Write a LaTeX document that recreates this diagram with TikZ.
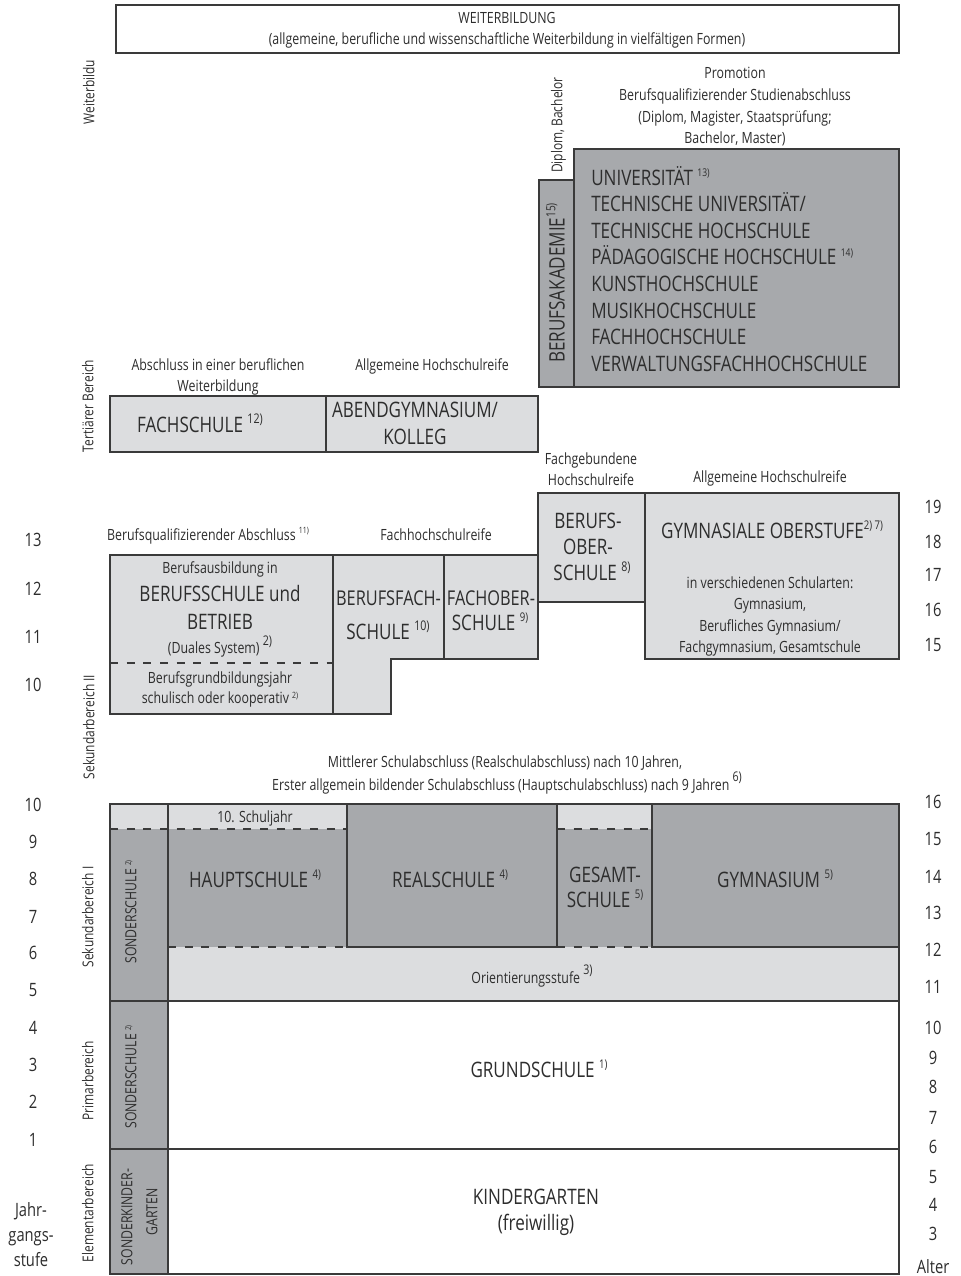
\documentclass[tikz,border=0pt]{standalone}
\usepackage{fontspec}
\setmainfont{Open Sans}[FakeStretch=0.8]
\definecolor{lightfill}{RGB}{220,221,223}
\definecolor{darkfill}{RGB}{167,169,172}
\definecolor{edge}{RGB}{58,58,58}
\definecolor{txt}{RGB}{45,45,45}
\newcommand\fn[3][5pt]{\raisebox{#1}{\fontsize{#2}{#2}\selectfont #3}}
\begin{document}
\begin{tikzpicture}[x=0.75pt,y=-0.75pt,
  box/.style={draw=edge, line width=1pt},
  lbox/.style={box, fill=lightfill},
  dbox/.style={box, fill=darkfill},
  dline/.style={draw=edge, line width=1pt, dash pattern=on 6pt off 6.5pt},
  small/.style={inner sep=0pt, text=txt, font=\fontsize{11.6}{13}\selectfont, text height=8.3pt, text depth=0pt},
  big/.style={inner sep=0pt, text=txt, font=\fontsize{16}{18}\selectfont, text height=11.45pt, text depth=0pt},
  tight/.style={big, font=\fontsize{15.3}{18}\selectfont, text height=10.95pt},
  num/.style={inner sep=0pt, text=txt, font=\fontsize{13.8}{16}\selectfont, text height=9.8pt, text depth=0pt},
  side/.style={inner sep=0pt, text=txt, rotate=90, font=\fontsize{11.2}{12}\selectfont, text height=8pt, text depth=0pt},
  sond/.style={inner sep=0pt, text=txt, rotate=90, font=\fontsize{11.5}{12}\selectfont, text height=8.2pt, text depth=0pt},
]
\path[use as bounding box, fill=white] (0,0) rectangle (960,1276);

% ---------- top: Weiterbildung ----------
\draw[box] (116,5) rectangle (899,53);
\node[small] (wb1) at (507,18) {WEITERBILDUNG};
\node[small] (wb2) at (507,39) {(allgemeine, berufliche und wissenschaftliche Weiterbildung in vielfältigen Formen)};

% ---------- side labels ----------
\node[side] (sWB) at (89,92) {Weiterbildu};
\node[side] (sTB) at (88,406) {Tertiärer Bereich};
\node[side] (sS2) at (89,727) {Sekundarbereich II};
\node[side] (sS1) at (88,917) {Sekundarbereich I};
\node[side] (sPB) at (88,1081) {Primarbereich};
\node[side] (sEB) at (88,1213) {Elementarbereich};

% ---------- tertiary ----------
\filldraw[dbox] (539,180) rectangle (574,387);
\filldraw[dbox] (574,149) rectangle (899,387);
\node[side] (dipl) at (557,125) {Diplom, Bachelor};
\node[small] (pr1) at (735,73) {Promotion};
\node[small] (pr2) at (735,95) {Berufsqualifizierender Studienabschluss};
\node[small] (pr3) at (735,117) {(Diplom, Magister, Staatsprüfung;};
\node[small] (pr4) at (735,138) {Bachelor, Master)};
\node[big, rotate=90, font=\fontsize{16}{18}\selectfont, text height=11.4pt] (ba) at (557,283) {BERUFSAKADEMIE\fn[7pt]{9.5}{15)}};
\node[big, anchor=west] (u1) at (591,177.5) {UNIVERSITÄT \fn[6.5pt]{8}{13)}};
\node[big, anchor=west] (u2) at (591,204.1) {TECHNISCHE UNIVERSITÄT/};
\node[big, anchor=west] (u3) at (591,230.7) {TECHNISCHE HOCHSCHULE};
\node[big, anchor=west] (u4) at (591,257.3) {PÄDAGOGISCHE HOCHSCHULE \fn[6.5pt]{8}{14)}};
\node[big, anchor=west] (u5) at (591,283.9) {KUNSTHOCHSCHULE};
\node[big, anchor=west] (u6) at (591,310.5) {MUSIKHOCHSCHULE};
\node[big, anchor=west] (u7) at (591,337.1) {FACHHOCHSCHULE};
\node[big, anchor=west] (u8) at (591,363.7) {VERWALTUNGSFACHHOCHSCHULE};

\filldraw[lbox] (110,396) rectangle (326,452);
\filldraw[lbox] (326,396) rectangle (538,452);
\node[small] (ab1) at (218,365) {Abschluss in einer beruflichen};
\node[small] (ab2) at (218,386) {Weiterbildung};
\node[small] (ahr1) at (432,365) {Allgemeine Hochschulreife};
\node[big] (fs) at (200,425) {FACHSCHULE \fn[6.5pt]{10}{12)}};
\node[big] (abg1) at (415,410) {ABENDGYMNASIUM/};
\node[big] (abg2) at (415,437) {KOLLEG};

% ---------- Sekundarbereich II ----------
\filldraw[lbox] (110,555) rectangle (333,714);
\draw[dline] (110,663) -- (333,663);
\filldraw[lbox] (333,555) -- (444,555) -- (444,659) -- (391,659) -- (391,714) -- (333,714) -- cycle;
\filldraw[lbox] (444,555) rectangle (538,659);
\filldraw[lbox] (538,493) rectangle (645,602);
\filldraw[lbox] (645,493) rectangle (899,659);

\node[small] (fgh1) at (591,459) {Fachgebundene};
\node[small] (fgh2) at (591,480) {Hochschulreife};
\node[small] (ahr2) at (770,477) {Allgemeine Hochschulreife};
\node[big] (bos1) at (588,521) {BERUFS-};
\node[big] (bos2) at (588,547) {OBER-};
\node[big] (bos3) at (592,573) {SCHULE \fn[6.5pt]{10}{8)}};
\node[big] (gost) at (772,531) {GYMNASIALE OBERSTUFE\fn[6.5pt]{9}{2) 7)}};
\node[small] (g1) at (770,583) {in verschiedenen Schularten:};
\node[small] (g2) at (770,604) {Gymnasium,};
\node[small] (g3) at (770,626) {Berufliches Gymnasium/};
\node[small] (g4) at (770,647) {Fachgymnasium, Gesamtschule};

\node[small] (bqa) at (208,535) {Berufsqualifizierender Abschluss \fn[5pt]{6.5}{11)}};
\node[small] (fhr) at (436,535) {Fachhochschulreife};
\node[small] (bsa1) at (220,568) {Berufsausbildung in};
\node[big] (bsa2) at (220,594) {BERUFSSCHULE und};
\node[big] (bsa3) at (220,622) {BETRIEB};
\node[small] (bsa4) at (220,648) {(Duales System) \fn[6pt]{10}{2)}};
\node[small] (bgj1) at (220,678) {Berufsgrundbildungsjahr};
\node[small] (bgj2) at (220,698) {schulisch oder kooperativ \fn[4pt]{6.5}{2)}};
\node[tight] (bfs1) at (388.5,598) {BERUFSFACH-};
\node[big] (bfs2) at (388,632) {SCHULE \fn[6.5pt]{10}{10)}};
\node[tight] (fos1) at (491,598) {FACHOBER-};
\node[big] (fos2) at (490,623) {SCHULE \fn[6.5pt]{9}{9)}};

\node[small] (msa1) at (505,762) {Mittlerer Schulabschluss (Realschulabschluss) nach 10 Jahren,};
\node[small] (msa2) at (507,785) {Erster allgemein bildender Schulabschluss (Hauptschulabschluss) nach 9 Jahren \fn[7pt]{10}{6)}};

% ---------- Sekundarbereich I, Primar, Elementar ----------
\fill[lightfill] (110,804) rectangle (168,829);
\fill[darkfill] (110,829) rectangle (168,1274);
\fill[lightfill] (168,804) rectangle (347,829);
\fill[darkfill] (168,829) rectangle (347,947);
\fill[darkfill] (347,804) rectangle (557,947);
\fill[lightfill] (557,804) rectangle (652,829);
\fill[darkfill] (557,829) rectangle (652,947);
\fill[darkfill] (652,804) rectangle (899,947);
\fill[lightfill] (168,947) rectangle (899,1001);
\fill[white] (168,1001) rectangle (899,1274);
\draw[box] (110,804) rectangle (899,1274);
\draw[box] (168,804) -- (168,1274);
\draw[box] (347,804) -- (347,947) -- (557,947) -- (557,804);
\draw[box] (652,804) -- (652,947) -- (899,947);
\draw[box] (110,1001) -- (899,1001);
\draw[edge, line width=2.2pt] (110,1149) -- (899,1149);
\draw[dline] (110,829) -- (347,829);
\draw[dline] (557,829) -- (652,829);
\draw[dline] (168,947) -- (347,947);
\draw[dline] (557,947) -- (652,947);

\node[small] (sj10) at (255,817) {10. Schuljahr};
\node[big] (hs) at (255,880) {HAUPTSCHULE \fn[6.5pt]{9}{4)}};
\node[big] (rs) at (450,880) {REALSCHULE \fn[6.5pt]{9}{4)}};
\node[big] (ge1) at (605,875) {GESAMT-};
\node[big] (ge2) at (605,900) {SCHULE \fn[6.5pt]{9}{5)}};
\node[big] (gym) at (775,880) {GYMNASIUM \fn[6.5pt]{9}{5)}};
\node[small] (ost) at (532,978) {Orientierungsstufe \fn[6.5pt]{10}{3)}};
\node[big] (gs) at (539,1070) {GRUNDSCHULE \fn[6.5pt]{9}{1)}};
\node[big] (kg1) at (536,1197) {KINDERGARTEN};
\node[big] (kg2) at (536,1223) {(freiwillig)};
\node[sond] (ss1) at (131,912) {SONDERSCHULE \fn[4pt]{6}{2)}};
\node[sond] (ss2) at (131,1077) {SONDERSCHULE \fn[4pt]{6}{2)}};
\node[sond] (skg1) at (127,1217) {SONDERKINDER-};
\node[sond] (skg2) at (152,1212) {GARTEN};

% ---------- numbers ----------
\foreach \n/\y [count=\k] in {13/540,12/589,11/637,10/685,10/805,9/842,8/879,7/917,6/953,5/990,4/1028,3/1065,2/1102,1/1140}
  \node[num] (L\k) at (33,\y) {\n};
\foreach \n/\y [count=\k] in {19/507,18/542,17/575,16/610,15/645,16/802,15/839,14/877,13/913,12/950,11/987,10/1028,9/1058,8/1087,7/1118,6/1147,5/1177,4/1205,3/1234}
  \node[num] (R\k) at (933,\y) {\n};
\node[num] (alter) at (933,1267) {Alter};
\node[num] (jg1) at (31,1210) {Jahr-};
\node[num] (jg2) at (31,1235) {gangs-};
\node[num] (jg3) at (31,1260) {stufe};
\end{tikzpicture}
\end{document}
